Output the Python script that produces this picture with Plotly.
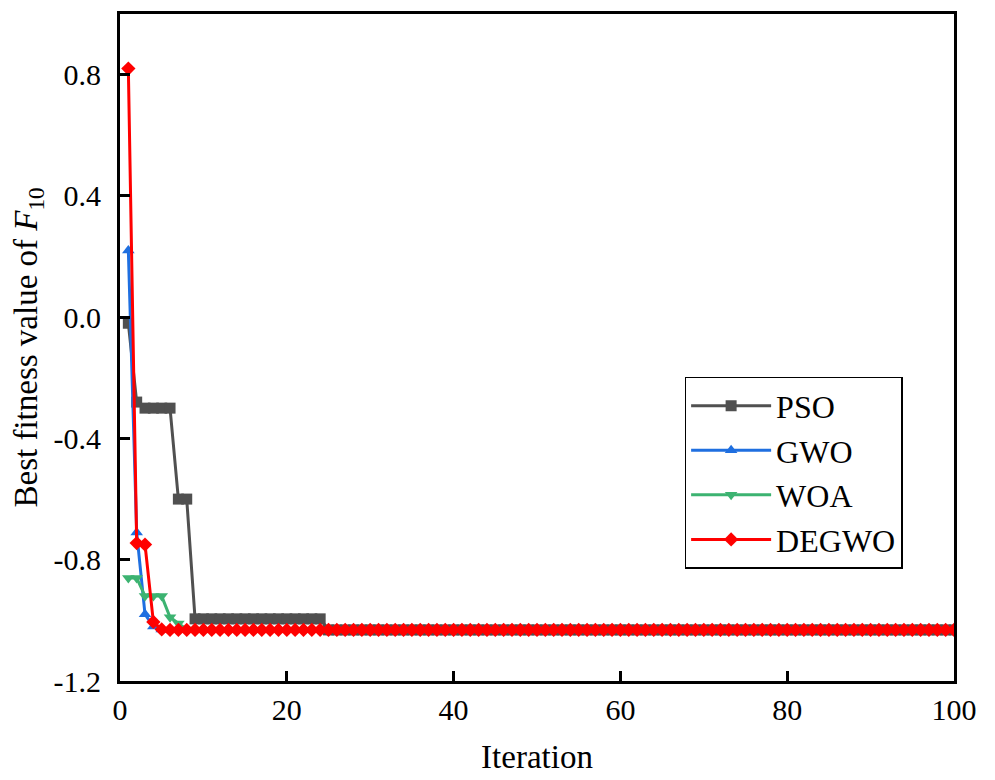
import plotly.graph_objects as go

iterations = list(range(1, 101))

FINAL = -1.0316

pso = [-0.02, -0.28, -0.30, -0.30, -0.30, -0.30, -0.60, -0.60] + [-0.995] * 16 + [FINAL] * 76
gwo = [0.22, -0.71, -0.98, -1.02, -1.03] + [FINAL] * 95
woa = [-0.86, -0.86, -0.92, -0.92, -0.92, -0.99, -1.01, -1.03] + [FINAL] * 92
degwo = [0.82, -0.745, -0.75, -1.005, -1.03] + [FINAL] * 95

series_names = ["PSO", "GWO", "WOA", "DEGWO"]
series_values = [pso, gwo, woa, degwo]
colors = ["#505050", "#1f6fe0", "#3cb371", "#ff0000"]
symbols = ["square", "triangle-up", "triangle-down", "diamond"]

y_tickvals = [0.8, 0.4, 0.0, -0.4, -0.8, -1.2]
y_ticktext = ["0.8", "0.4", "0.0", "-0.4", "-0.8", "-1.2"]
x_tickvals = [0, 20, 40, 60, 80, 100]
x_ticktext = ["0", "20", "40", "60", "80", "100"]

FONT = "Liberation Serif, Times New Roman, serif"

fig = go.Figure()
for name, vals, c, s in zip(series_names, series_values, colors, symbols):
    fig.add_trace(go.Scatter(
        x=iterations, y=vals, name=name, mode="lines+markers",
        line=dict(color=c, width=3),
        marker=dict(symbol=s, size=11, color=c, line=dict(width=0)),
    ))

axis_common = dict(
    showline=True, linecolor="black", linewidth=3, mirror=True,
    ticks="inside", ticklen=10, tickwidth=3, tickcolor="black",
    showgrid=False, zeroline=False,
    tickfont=dict(family=FONT, size=30, color="black"),
)

fig.update_layout(
    width=995, height=780,
    margin=dict(l=120, r=41, t=11, b=97),
    paper_bgcolor="white", plot_bgcolor="white",
    font=dict(family=FONT, color="black"),
    xaxis=dict(range=[0, 100], tickvals=x_tickvals, ticktext=x_ticktext,
               title=dict(text="Iteration", font=dict(family=FONT, size=33, color="black"), standoff=20),
               **axis_common),
    yaxis=dict(range=[-1.2, 1.0], tickvals=y_tickvals, ticktext=y_ticktext,
               ticklabelstandoff=10,
               title=dict(text="Best fitness value of <i>F</i><sub>10</sub>",
                          font=dict(family=FONT, size=33, color="black"), standoff=6),
               **axis_common),
    legend=dict(x=0.677, y=0.456, xanchor="left", yanchor="top",
                bgcolor="white", bordercolor="black", borderwidth=1.5,
                font=dict(family=FONT, size=32, color="black"),
                itemwidth=80, tracegroupgap=0),
    showlegend=True,
)

fig.write_html("out.html")
